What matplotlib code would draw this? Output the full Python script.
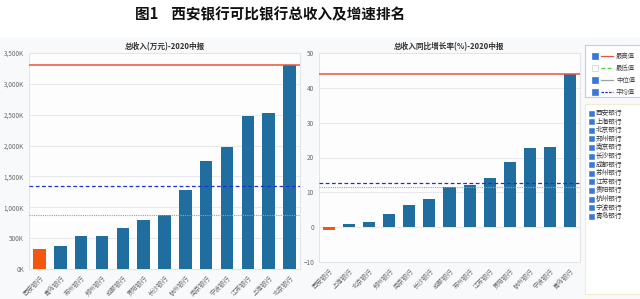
import matplotlib
matplotlib.use("Agg")
import matplotlib.pyplot as plt
from matplotlib.patches import Rectangle
from matplotlib.lines import Line2D
import numpy as np

plt.rcParams['font.family'] = ['Noto Sans CJK SC', 'DejaVu Sans']

# ---- data ----
rev_banks = ["西安银行", "青岛银行", "苏州银行", "郑州银行", "成都银行", "贵阳银行", "长沙银行",
             "杭州银行", "南京银行", "宁波银行", "江苏银行", "上海银行", "北京银行"]
rev_values = [325, 378, 534, 539, 669, 798, 879, 1278, 1757, 1978, 2485, 2528, 3305]  # K

gr_banks = ["西安银行", "上海银行", "北京银行", "郑州银行", "南京银行", "长沙银行", "成都银行",
            "苏州银行", "江苏银行", "贵阳银行", "杭州银行", "宁波银行", "青岛银行"]
gr_values = [-0.9, 0.9, 1.6, 3.8, 6.4, 8.0, 11.6, 12.2, 14.2, 18.8, 22.8, 22.9, 44.1]

rev_ticks = [0, 500, 1000, 1500, 2000, 2500, 3000, 3500]
rev_ticklabels = ["0K", "500K", "1,000K", "1,500K", "2,000K", "2,500K", "3,000K", "3,500K"]
gr_ticks = [-10, 0, 10, 20, 30, 40, 50]

legend_lines = ["最高值", "最低值", "中位值", "平均值"]
legend_banks = ["西安银行", "上海银行", "北京银行", "郑州银行", "南京银行", "长沙银行", "成都银行",
                "苏州银行", "江苏银行", "贵阳银行", "杭州银行", "宁波银行", "青岛银行"]

BLUE = "#1f6e9f"
ORANGE = "#f2560f"
RED = "#e4553f"
AVG = "#1f2fd6"
MED = "#a0a0a0"
W, H = 640, 299

fig = plt.figure(figsize=(6.4, 2.99), dpi=100)
fig.patch.set_facecolor("white")

def fx(px): return px / W
def fy(py): return 1 - py / H

# light background panel
fig.patches.append(Rectangle((0, 0), 1, fy(37), transform=fig.transFigure,
                             facecolor="#f8f9fb", edgecolor="none", zorder=0))

fig.text(fx(270), fy(14), "图1    西安银行可比银行总收入及增速排名", ha="center", va="center",
         fontsize=10.5, fontweight="bold", color="#111111")

def style_ax(ax):
    ax.set_zorder(3)
    ax.set_facecolor("#fdfdfe")
    for s in ax.spines.values():
        s.set_color("#e2e4e8")
        s.set_linewidth(0.7)
    ax.grid(axis="y", color="#e6e8ec", linewidth=0.7)
    ax.set_axisbelow(True)
    ax.tick_params(axis="both", length=0, colors="#6a6a6a", labelsize=4.6)

def draw_lines(ax, vals):
    v = np.array(vals)
    ax.axhline(v.max(), color=RED, linewidth=1.1, zorder=3)
    ax.axhline(np.median(v), color=MED, linewidth=0.8, linestyle=(0, (1, 1)), zorder=3)
    ax.axhline(v.mean(), color=AVG, linewidth=0.9, linestyle=(0, (3, 2)), zorder=3)

# left axes
ax1 = fig.add_axes([fx(29), fy(269), fx(300 - 29), fy(53) - fy(269)])
style_ax(ax1)
x1 = np.arange(len(rev_banks))
colors1 = [ORANGE if b == "西安银行" else BLUE for b in rev_banks]
ax1.bar(x1, rev_values, width=0.6, color=colors1, zorder=2)
draw_lines(ax1, rev_values)
ax1.set_ylim(0, 3500)
ax1.set_xlim(-0.5, len(rev_banks) - 0.5)
ax1.set_yticks(rev_ticks)
ax1.set_yticklabels(rev_ticklabels)
ax1.set_xticks(x1)
ax1.set_xticklabels(rev_banks, rotation=45, ha="right", rotation_mode="anchor", fontsize=4.6)
ax1.set_title("总收入(万元)-2020中报", fontsize=5.5, color="#333333", pad=3, fontweight="bold")

# right axes
ax2 = fig.add_axes([fx(319), fy(262), fx(580 - 319), fy(53) - fy(262)])
style_ax(ax2)
x2 = np.arange(len(gr_banks))
colors2 = [ORANGE if b == "西安银行" else BLUE for b in gr_banks]
ax2.bar(x2, gr_values, width=0.6, color=colors2, zorder=2)
draw_lines(ax2, gr_values)
ax2.set_ylim(-10, 50)
ax2.set_xlim(-0.5, len(gr_banks) - 0.5)
ax2.set_yticks(gr_ticks)
ax2.set_xticks(x2)
ax2.set_xticklabels(gr_banks, rotation=45, ha="right", rotation_mode="anchor", fontsize=4.6)
ax2.set_title("总收入同比增长率(%)-2020中报", fontsize=5.5, color="#333333", pad=3, fontweight="bold")

# legend box 1
fig.patches.append(Rectangle((fx(585), fy(97)), fx(60), fy(45) - fy(97), transform=fig.transFigure,
                             facecolor="white", edgecolor="#c9c8ee", linewidth=0.8, zorder=1))
line_styles = [(RED, "-", True), ("#3cd23c", (0, (3, 2)), False), (MED, "-", True), (AVG, (0, (2, 1)), True)]
row_y = [56, 68, 80, 92]
for lab, (c, ls, checked), yy in zip(legend_lines, line_styles, row_y):
    fig.patches.append(Rectangle((fx(592), fy(yy + 2.7)), fx(5.5), fy(yy - 2.7) - fy(yy + 2.7),
                                 transform=fig.transFigure,
                                 facecolor="#3a78d8" if checked else "white",
                                 edgecolor="#3a78d8" if checked else "#cccccc", linewidth=0.5, zorder=2))
    fig.lines.append(Line2D([fx(601), fx(613)], [fy(yy), fy(yy)], transform=fig.transFigure,
                            color=c, linestyle=ls, linewidth=0.9, zorder=2))
    fig.text(fx(616), fy(yy), lab, fontsize=4.6, va="center", ha="left", color="#444444")

# legend box 2
fig.patches.append(Rectangle((fx(585), fy(294)), fx(60), fy(104) - fy(294), transform=fig.transFigure,
                             facecolor="white", edgecolor="#f3ead2", linewidth=0.8, zorder=1))
for i, b in enumerate(legend_banks):
    yy = 113 + i * 8.6
    fig.patches.append(Rectangle((fx(589), fy(yy + 2.5)), fx(5), fy(yy - 2.5) - fy(yy + 2.5),
                                 transform=fig.transFigure, facecolor="#3a78d8",
                                 edgecolor="#3a78d8", linewidth=0.4, zorder=2))
    fig.text(fx(596), fy(yy), b, fontsize=4.8, va="center", ha="left", color="#333333")

fig.savefig("out.png", dpi=100)
